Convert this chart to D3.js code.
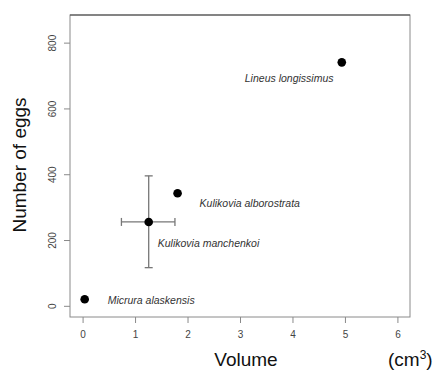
<!DOCTYPE html>
<html>
<head>
<meta charset="utf-8">
<script src="https://cdn.jsdelivr.net/npm/d3@7"></script>
<style>
  body { margin: 0; background: #fff; }
  text { font-family: "Liberation Sans", Arial, sans-serif; }
</style>
</head>
<body>
<svg width="435" height="370"></svg>
<script>
// species data
const species = ['Micrura alaskensis', 'Kulikovia manchenkoi', 'Kulikovia alborostrata', 'Lineus longissimus'];
const volume = [0.04, 1.26, 1.81, 4.94];
const eggs = [20, 255, 342, 740];
// error bars only for K. manchenkoi
const volLo = [null, 0.74, null, null];
const volHi = [null, 1.76, null, null];
const eggLo = [null, 116, null, null];
const eggHi = [null, 395, null, null];
// label offsets (in px) relative to the point
const labelDx = [23, 9, 22, -97];
const labelDy = [5, 25, 14, 20];
const xTicks = [0, 1, 2, 3, 4, 5, 6];
const yTicks = [0, 200, 400, 600, 800];

const svg = d3.select('svg');
const pLeft = 70, pRight = 410, pTop = 15, pBottom = 317;

// R style: 4% padding around the limits
const x = d3.scaleLinear().domain([-0.24, 6.24]).range([pLeft, pRight]);
const y = d3.scaleLinear().domain([-34, 884]).range([pBottom, pTop]);

const grey = '#8a8a8a';

// box
svg.append('rect')
  .attr('x', pLeft).attr('y', pTop)
  .attr('width', pRight - pLeft).attr('height', pBottom - pTop)
  .attr('fill', 'none').attr('stroke', grey).attr('stroke-width', 1);
svg.append('line')
  .attr('x1', pLeft).attr('x2', pRight).attr('y1', pTop).attr('y2', pTop)
  .attr('stroke', '#444');

// x axis
const xAxis = svg.append('g')
  .attr('transform', `translate(0,${pBottom})`)
  .call(d3.axisBottom(x).tickValues(xTicks).tickSize(6).tickPadding(8).tickFormat(d3.format('d')));
xAxis.select('.domain').remove();
xAxis.selectAll('line').attr('stroke', grey);
xAxis.selectAll('text').attr('fill', '#444').style('font-size', '10px');

// y axis
const yAxis = svg.append('g')
  .attr('transform', `translate(${pLeft},0)`)
  .call(d3.axisLeft(y).tickValues(yTicks).tickSize(6).tickFormat(d3.format('d')));
yAxis.select('.domain').remove();
yAxis.selectAll('line').attr('stroke', grey);
yAxis.selectAll('.tick text')
  .attr('fill', '#444').style('font-size', '10px')
  .attr('x', 0).attr('dy', 0)
  .attr('text-anchor', 'middle')
  .attr('transform', 'translate(-14,0) rotate(-90)');

// error bars
const errs = species.map((s, i) => i).filter(i => volLo[i] !== null);
const eb = svg.append('g').attr('stroke', '#777').attr('stroke-width', 1.3);
errs.forEach(i => {
  eb.append('line')
    .attr('x1', x(volLo[i])).attr('x2', x(volHi[i]))
    .attr('y1', y(eggs[i])).attr('y2', y(eggs[i]));
  eb.append('line')
    .attr('x1', x(volume[i])).attr('x2', x(volume[i]))
    .attr('y1', y(eggLo[i])).attr('y2', y(eggHi[i]));
  [volLo[i], volHi[i]].forEach(v => eb.append('line')
    .attr('x1', x(v)).attr('x2', x(v))
    .attr('y1', y(eggs[i]) - 4).attr('y2', y(eggs[i]) + 4));
  [eggLo[i], eggHi[i]].forEach(v => eb.append('line')
    .attr('x1', x(volume[i]) - 4).attr('x2', x(volume[i]) + 4)
    .attr('y1', y(v)).attr('y2', y(v)));
});

// points
svg.append('g').selectAll('circle')
  .data(species)
  .join('circle')
  .attr('cx', (d, i) => x(volume[i]))
  .attr('cy', (d, i) => y(eggs[i]))
  .attr('r', 4.3)
  .attr('fill', '#000');

// species labels
svg.append('g').selectAll('text')
  .data(species)
  .join('text')
  .attr('x', (d, i) => x(volume[i]) + labelDx[i])
  .attr('y', (d, i) => y(eggs[i]) + labelDy[i])
  .style('font-size', '10.5px')
  .style('font-style', 'italic')
  .attr('fill', '#333')
  .text(d => d);

// axis titles
svg.append('text')
  .attr('x', 246).attr('y', 366)
  .attr('text-anchor', 'middle')
  .style('font-size', '19px')
  .attr('fill', '#111')
  .text('Volume');

const unit = svg.append('text')
  .attr('x', 388).attr('y', 366)
  .style('font-size', '19px')
  .attr('fill', '#111');
unit.append('tspan').text('(cm');
unit.append('tspan').attr('dy', -7).style('font-size', '12px').text('3');
unit.append('tspan').attr('dy', 7).text(')');

svg.append('text')
  .attr('transform', `translate(26,165) rotate(-90)`)
  .attr('text-anchor', 'middle')
  .style('font-size', '19px')
  .attr('fill', '#111')
  .text('Number of eggs');
</script>
</body>
</html>
